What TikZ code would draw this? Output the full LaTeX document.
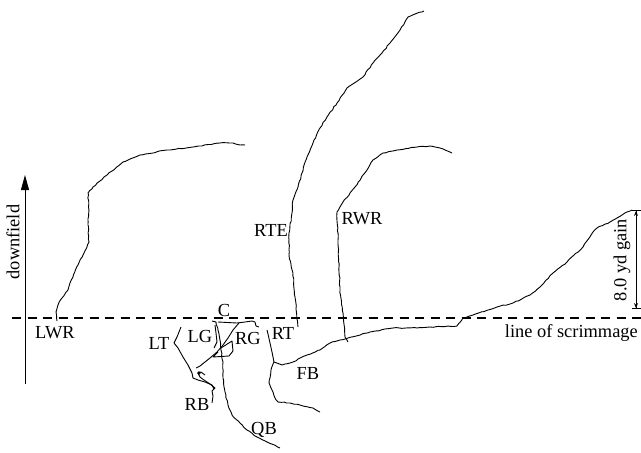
\documentclass[tikz,border=0pt]{standalone}
\usepackage{fontspec}
\setmainfont{Liberation Serif}
\usetikzlibrary{arrows.meta,decorations.pathmorphing}
\begin{document}
\begin{tikzpicture}[x=1pt,y=-1pt,
  route/.style={line width=0.9pt,line join=round,decorate,
    decoration={random steps,segment length=3pt,amplitude=0.45pt}},
  lbl/.style={font=\fontsize{18.4}{20}\selectfont,inner sep=0pt},
  scrim/.style={line width=2pt,dash pattern=on 9.3pt off 6.2pt}]
\pgfmathsetseed{7}
\useasboundingbox (0,0) rectangle (641,453);
% line of scrimmage
\coordinate (s0) at (12,318);
\coordinate (s1) at (641,318);
\draw[scrim] (s0) -- (s1);
\node[lbl,anchor=east] (los) at (638,333) {line of scrimmage};
% downfield arrow
\coordinate (d0) at (25,384);
\coordinate (d1) at (25,175);
\draw[line width=0.9pt,-{Triangle[length=15pt,width=8pt]}] (d0) -- (d1);
\node[lbl,rotate=90] (down) at (13,242) {downfield};
% gain dimension
\coordinate (g0) at (636,210);
\coordinate (g1) at (636,309);
\draw[line width=0.9pt,{Bar[width=9pt]Stealth[length=5pt,width=4pt]}-{Stealth[length=5pt,width=4pt]Bar[width=9pt]}] (g0) -- (g1);
\node[lbl,rotate=90] (gain) at (622,260) {8.0 yd gain};
% LWR
\draw[route] (57,321) -- (56,312) -- (58,305) -- (62,298) -- (68,290) -- (70,283) -- (78,265) -- (84,253) -- (89,242) -- (88,225) -- (89,210) -- (88,193) -- (93,187) -- (107,175) -- (123,162) -- (140,155) -- (167,150) -- (193,147) -- (220,143) -- (233,143) -- (240,145) -- (245,145);
\node[lbl] (lwr) at (55,333) {LWR};
% RTE
\draw[route] (298,327) -- (295,297) -- (293,273) -- (289,255) -- (289,233) -- (292,213) -- (293,200) -- (298,187) -- (302,173) -- (307,157) -- (313,143) -- (320,128) -- (327,117) -- (337,103) -- (347,88) -- (363,77) -- (373,63) -- (382,53) -- (390,43) -- (400,30) -- (408,17) -- (424,11);
\node[lbl] (rte) at (271,230) {RTE};
% RWR
\draw[route] (348,342) -- (345,337) -- (343,313) -- (340,290) -- (339,267) -- (338,240) -- (337,212) -- (343,202) -- (355,187) -- (367,170) -- (373,160) -- (383,153) -- (397,150) -- (417,147) -- (430,146) -- (440,148) -- (452,153);
\node[lbl] (rwr) at (362,219) {RWR};
% FB
\draw[route] (320,412) -- (313,408) -- (303,406) -- (290,403) -- (278,402) -- (275,398) -- (272,390) -- (269,383) -- (271,370) -- (274,362) -- (282,365) -- (293,362) -- (307,355) -- (320,350) -- (330,343) -- (340,340) -- (348,338) -- (370,332) -- (393,328) -- (417,328) -- (430,327) -- (457,326) -- (463,318) -- (473,315) -- (497,307) -- (513,303) -- (530,295) -- (540,287) -- (553,273) -- (567,262) -- (583,247) -- (593,232) -- (597,228) -- (610,222) -- (627,212) -- (632,210);
\node[lbl] (fb) at (308,373) {FB};
% RT
\draw[line width=0.9pt,line join=round] (267,330) -- (268,334) -- (270,343) -- (272,352) -- (274,362);
\node[lbl] (rt) at (283,333) {RT};
% QB (from under center)
\draw[route] (212,321) -- (216,322) -- (218,330) -- (220,340) -- (221,350) -- (223,362) -- (223,378) -- (225,392) -- (228,405) -- (232,415) -- (240,423) -- (247,430) -- (257,437) -- (267,442) -- (280,448);
\node[lbl] (qb) at (264,430) {QB};
% C
\draw[line width=0.9pt,line join=round] (218,322) -- (237,323) -- (245,322) -- (252,321) -- (255,322) -- (256,326) -- (259,327);
\node[lbl] (c) at (224,310) {C};
% RG
\draw[line width=0.9pt,line join=round] (239,323) -- (233,330) -- (228,338) -- (223,345) -- (217,352) -- (210,358) -- (205,362) -- (200,366) -- (196,368);
\draw[line width=0.9pt,line join=round] (221,348) -- (232,341) -- (233,351) -- (229,356) -- (213,357) -- (218,352);
\node[lbl] (rg) at (248,338) {RG};
% LG
\draw[line width=0.9pt,line join=round] (215,325) -- (216,333) -- (217,342) -- (214,348);
\node[lbl] (lg) at (200,336) {LG};
% LT
\draw[line width=0.9pt,line join=round] (181,327) -- (177,337) -- (174,343) -- (178,348) -- (183,357) -- (188,365) -- (192,373) -- (193,378) -- (198,380) -- (205,382) -- (212,385) -- (214,389);
\node[lbl] (lt) at (159,343) {LT};
% RB
\draw[line width=0.9pt,line join=round] (212,403) -- (213,396) -- (212,391) -- (215,388) -- (210,384) -- (204,380) -- (200,377) -- (198,373) -- (201,372) -- (205,375);
\fill (199,373) circle (1.8pt);
\node[lbl] (rb) at (197,404) {RB};
\end{tikzpicture}
\end{document}
